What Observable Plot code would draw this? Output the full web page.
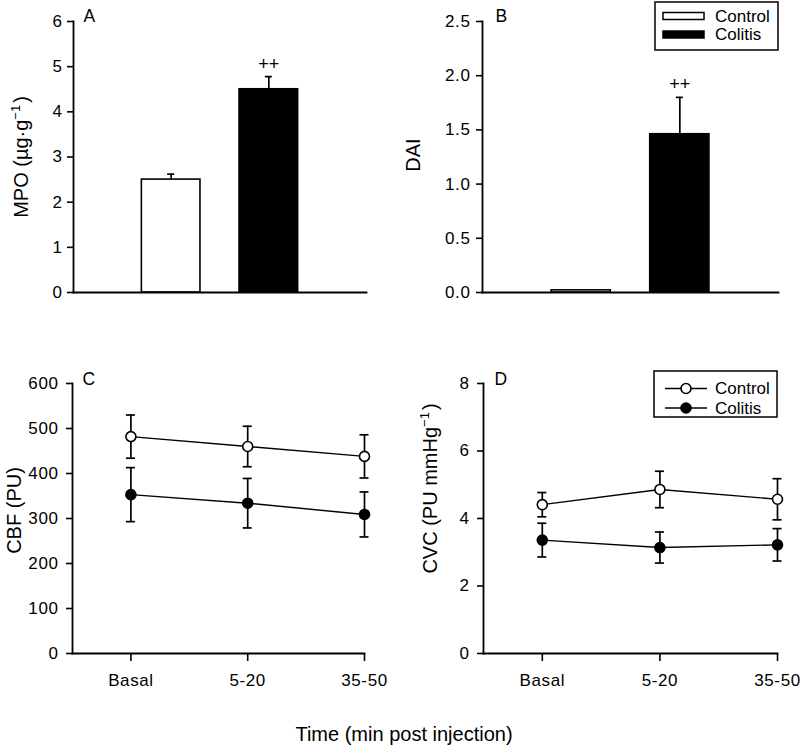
<!DOCTYPE html>
<html><head><meta charset="utf-8">
<script src="https://cdn.jsdelivr.net/npm/d3@7"></script>
<script src="https://cdn.jsdelivr.net/npm/@observablehq/plot@0.6"></script>
<style>
html,body{margin:0;padding:0;background:#fff;}
#root{position:relative;width:800px;height:748px;background:#fff;overflow:hidden;font-family:"Liberation Sans",Arial,sans-serif;}
#root > svg{position:absolute;overflow:visible;}
[aria-label="y-axis tick label"] text, [aria-label="x-axis tick label"] text{letter-spacing:0.6px;}
</style></head><body><div id="root"></div>
<script>
// ---------- data ----------
const barGroups = ["Control", "Colitis"];
const mpoMean = [2.5, 4.5];
const mpoSE = [0.12, 0.28];
const mpoSig = ["", "++"];
const daiMean = [0.02, 1.46];
const daiSE = [0, 0.34];
const daiSig = ["", "++"];
const mpoTicks = [0, 1, 2, 3, 4, 5, 6];
const daiTicks = [0, 0.5, 1.0, 1.5, 2.0, 2.5];

const timeLabels = ["Basal", "5-20", "35-50"];
const cbfControl = [482, 460, 438];
const cbfControlSE = [48, 45, 48];
const cbfColitis = [353, 334, 309];
const cbfColitisSE = [60, 55, 50];
const cvcControl = [4.41, 4.86, 4.57];
const cvcControlSE = [0.36, 0.54, 0.61];
const cvcColitis = [3.36, 3.14, 3.22];
const cvcColitisSE = [0.50, 0.46, 0.48];
const cbfTicks = [0, 100, 200, 300, 400, 500, 600];
const cvcTicks = [0, 2, 4, 6, 8];

const groupFill = {Control: "white", Colitis: "black"};
const FONT = "'Liberation Sans', Arial, Helvetica, sans-serif";
const SUP = "⁻¹";

const root = document.getElementById("root");

// turn the unicode superscript into a raised tspan
function superscripts(svg) {
  svg.querySelectorAll("text").forEach(t => {
    const s = t.textContent;
    if (!s.includes(SUP)) return;
    const [a, b] = s.split(SUP);
    t.textContent = "";
    const ns = "http://www.w3.org/2000/svg";
    const t1 = document.createElementNS(ns, "tspan"); t1.textContent = a;
    const t2 = document.createElementNS(ns, "tspan"); t2.textContent = "−1";
    t2.setAttribute("font-size", "13"); t2.setAttribute("dy", "-8");
    const t3 = document.createElementNS(ns, "tspan"); t3.textContent = b;
    t3.setAttribute("dy", "8"); t3.setAttribute("dx", "2");
    t.append(t1, t2, t3);
  });
  return svg;
}

function place(svg, left, top) {
  superscripts(svg);
  svg.style.left = left + "px";
  svg.style.top = top + "px";
  root.appendChild(svg);
}

function barPanel(o) {
  const data = barGroups.map((g, i) => ({
    g, pos: i + 1, m: o.means[i], se: o.ses[i], top: o.means[i] + o.ses[i], sig: o.sig[i]
  }));
  const withErr = data.filter(d => d.se > 0);
  const cap = 0.036;
  return Plot.plot({
    width: 400, height: 330,
    marginLeft: o.ml, marginRight: o.mr, marginTop: 21, marginBottom: 38,
    style: {fontFamily: FONT, fontSize: "17px", color: "black", background: "transparent", overflow: "visible"},
    x: {domain: [0, 3], axis: null},
    y: {domain: o.yDomain, axis: null},
    marks: [
      Plot.rect(data, {x1: d => d.pos - 0.3, x2: d => d.pos + 0.3, y1: d => 0, y2: "m",
        fill: d => groupFill[d.g], stroke: "black", strokeWidth: 1.6}),
      Plot.ruleX(withErr, {x: "pos", y1: "m", y2: "top", stroke: "black", strokeWidth: 1.7}),
      Plot.ruleY(withErr, {y: "top", x1: d => d.pos - cap, x2: d => d.pos + cap, stroke: "black", strokeWidth: 1.7}),
      Plot.text(data.filter(d => d.sig), {x: "pos", y: "top", text: "sig", lineAnchor: "bottom", dy: -7, fontSize: 18, fill: "black"}),
      Plot.axisY({ticks: o.ticks, tickFormat: o.fmt, tickSize: 6, tickPadding: o.tp, strokeWidth: 1.6, label: null, fontSize: 17}),
      Plot.frame({anchor: "left", stroke: "black", strokeWidth: 1.8}),
      Plot.frame({anchor: "bottom", stroke: "black", strokeWidth: 1.8}),
      Plot.text([o.title], {frameAnchor: "left", rotate: -90, textAnchor: "middle", lineAnchor: "bottom",
        dx: o.tdx, dy: o.tdy, fontSize: 20, fill: "black"}),
      Plot.text([o.letter], {frameAnchor: "top-left", textAnchor: "start", lineAnchor: "bottom",
        dx: o.ldx, dy: 0, fontSize: 17.5, fill: "black"})
    ]
  });
}

function linePanel(o) {
  const series = [
    {name: "Control", mean: o.ctrl, se: o.ctrlSE},
    {name: "Colitis", mean: o.col, se: o.colSE}
  ];
  const rows = series.flatMap(s => timeLabels.map((t, i) => ({
    s: s.name, i, m: s.mean[i], lo: s.mean[i] - s.se[i], hi: s.mean[i] + s.se[i]
  })));
  const cap = 0.0385;
  return Plot.plot({
    width: 400, height: 360,
    marginLeft: o.ml, marginRight: o.mr, marginTop: 53, marginBottom: 37,
    style: {fontFamily: FONT, fontSize: "17px", color: "black", background: "transparent", overflow: "visible"},
    x: {domain: [-0.5, 2], axis: null},
    y: {domain: o.yDomain, axis: null},
    marks: [
      Plot.line(rows, {x: "i", y: "m", z: "s", stroke: "black", strokeWidth: 1.4}),
      Plot.ruleX(rows, {x: "i", y1: "lo", y2: "hi", stroke: "black", strokeWidth: 1.7}),
      Plot.ruleY(rows, {y: "lo", x1: d => d.i - cap, x2: d => d.i + cap, stroke: "black", strokeWidth: 1.7}),
      Plot.ruleY(rows, {y: "hi", x1: d => d.i - cap, x2: d => d.i + cap, stroke: "black", strokeWidth: 1.7}),
      Plot.dot(rows, {x: "i", y: "m", r: 5, fill: d => groupFill[d.s], stroke: "black", strokeWidth: 1.6}),
      Plot.axisY({ticks: o.ticks, tickSize: 6, tickPadding: o.tp, strokeWidth: 1.6, label: null, fontSize: 17}),
      Plot.axisX({ticks: [0, 1, 2], tickFormat: i => timeLabels[i], tickSize: 8, tickPadding: 12, strokeWidth: 1.6, label: null, fontSize: 17}),
      Plot.frame({anchor: "left", stroke: "black", strokeWidth: 1.8}),
      Plot.frame({anchor: "bottom", stroke: "black", strokeWidth: 1.8}),
      Plot.text([o.title], {frameAnchor: "left", rotate: -90, textAnchor: "middle", lineAnchor: "bottom",
        dx: o.tdx, dy: o.tdy, fontSize: 20, fill: "black"}),
      Plot.text([o.letter], {frameAnchor: "top-left", textAnchor: "start", lineAnchor: "bottom",
        dx: o.ldx, dy: 1, fontSize: 17.5, fill: "black"})
    ]
  });
}

place(barPanel({means: mpoMean, ses: mpoSE, sig: mpoSig, yDomain: [0, 6], ticks: mpoTicks, fmt: d3.format("d"),
  ml: 73, mr: 34, tp: 5, title: "MPO (µg·g" + SUP + ")", tdx: -46, tdy: 0, letter: "A", ldx: 10}), 0, 0);
place(barPanel({means: daiMean, ses: daiSE, sig: daiSig, yDomain: [0, 2.5], ticks: daiTicks, fmt: d3.format(".1f"),
  ml: 82, mr: 22, tp: 6, title: "DAI", tdx: -63, tdy: -2, letter: "B", ldx: 13}), 400, 0);
place(linePanel({ctrl: cbfControl, ctrlSE: cbfControlSE, col: cbfColitis, colSE: cbfColitisSE, yDomain: [0, 600], ticks: cbfTicks,
  ml: 72, mr: 36, tp: 8, title: "CBF (PU)", tdx: -52, tdy: -8, letter: "C", ldx: 10}), 0, 330);
place(linePanel({ctrl: cvcControl, ctrlSE: cvcControlSE, col: cvcColitis, colSE: cvcColitisSE, yDomain: [0, 8], ticks: cvcTicks,
  ml: 83, mr: 23, tp: 8, title: "CVC (PU mmHg" + SUP + ")", tdx: -47, tdy: -30, letter: "D", ldx: 11}), 400, 330);

// ---------- overlay: legends + shared x title ----------
const ov = d3.create("svg").attr("width", 800).attr("height", 748)
  .style("position", "absolute").style("left", "0px").style("top", "0px")
  .style("font-family", FONT);

// Legend B (bars)
const lb = ov.append("g").attr("transform", "translate(655,2)");
lb.append("rect").attr("x", 0).attr("y", 0).attr("width", 123).attr("height", 48)
  .attr("fill", "white").attr("stroke", "black").attr("stroke-width", 1.5);
barGroups.forEach((g, i) => {
  const cy = 14 + i * 18.5;
  lb.append("rect").attr("x", 8).attr("y", cy - 3.5).attr("width", 41).attr("height", 7)
    .attr("fill", groupFill[g]).attr("stroke", "black").attr("stroke-width", 1.5);
  lb.append("text").attr("x", 60).attr("y", cy + 5.5).attr("font-size", 17).text(g);
});

// Legend D (lines)
const ld = ov.append("g").attr("transform", "translate(654,371)");
ld.append("rect").attr("x", 0).attr("y", 0).attr("width", 123).attr("height", 46)
  .attr("fill", "white").attr("stroke", "black").attr("stroke-width", 1.5);
barGroups.forEach((g, i) => {
  const cy = 17.5 + i * 19.5;
  ld.append("line").attr("x1", 11).attr("x2", 53).attr("y1", cy).attr("y2", cy)
    .attr("stroke", "black").attr("stroke-width", 1.5);
  ld.append("circle").attr("cx", 32).attr("cy", cy).attr("r", 5)
    .attr("fill", groupFill[g]).attr("stroke", "black").attr("stroke-width", 1.6);
  ld.append("text").attr("x", 61).attr("y", cy + 5.5).attr("font-size", 17).text(g);
});

ov.append("text").attr("x", 404).attr("y", 741).attr("text-anchor", "middle")
  .attr("font-size", 20).text("Time (min post injection)");

root.appendChild(ov.node());
</script>
</body></html>
